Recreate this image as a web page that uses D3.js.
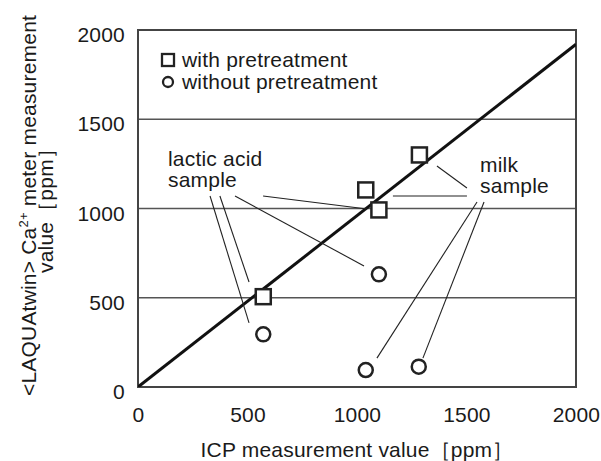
<!DOCTYPE html>
<html>
<head>
<meta charset="utf-8">
<script src="https://cdn.jsdelivr.net/npm/d3@7"></script>
<style>
  body { margin: 0; background: #fff; }
  svg text { font-family: "Liberation Sans", Arial, sans-serif; fill: #1a1a1a; letter-spacing: 0.2px; }
</style>
</head>
<body>
<svg id="chart" width="601" height="461"></svg>
<script>
// with pretreatment (squares)
const withX = [572, 1040, 1100, 1285];
const withY = [506, 1104, 992, 1300];
// without pretreatment (circles)
const withoutX = [572, 1100, 1040, 1282];
const withoutY = [295, 631, 95, 114];

const tickValues = [0, 500, 1000, 1500, 2000];
const gridValues = [500, 1000, 1500];
const fitLine = [[0, 0], [2000, 1920]];

const legendLabels = ['with pretreatment', 'without pretreatment'];
const lacticLabel = ['lactic acid', 'sample'];
const milkLabel = ['milk', 'sample'];
// leader lines [x1, y1, x2, y2] in data units
const lacticLeaders = [[329, 1070, 507, 359], [374, 1070, 507, 588], [443, 1070, 1032, 678], [571, 1070, 1046, 997]];
const milkLeaders = [[1365, 1238, 1502, 1115], [1164, 1070, 1502, 1070], [1548, 1036, 1091, 162], [1580, 1036, 1301, 162]];

const margin = { top: 30, right: 25, bottom: 74, left: 138 };
const width = 601 - margin.left - margin.right;
const height = 461 - margin.top - margin.bottom;

const svg = d3.select('#chart')
  .append('g')
  .attr('transform', `translate(${margin.left},${margin.top})`);

const x = d3.scaleLinear().domain([0, 2000]).range([0, width]);
const y = d3.scaleLinear().domain([0, 2000]).range([height, 0]);

// Gridlines
svg.append('g')
  .selectAll('line')
  .data(gridValues)
  .enter()
  .append('line')
  .attr('x1', 0)
  .attr('x2', width)
  .attr('y1', d => y(d))
  .attr('y2', d => y(d))
  .attr('stroke', '#555')
  .attr('stroke-width', 1.3);

// Frame
svg.append('rect')
  .attr('width', width)
  .attr('height', height)
  .attr('fill', 'none')
  .attr('stroke', '#444')
  .attr('stroke-width', 2);

// Axes (labels only)
const fmt = d3.format('d');
const xAxis = svg.append('g')
  .attr('transform', `translate(0,${height})`)
  .call(d3.axisBottom(x).tickValues(tickValues).tickFormat(fmt).tickSize(0).tickPadding(20));
const yAxis = svg.append('g')
  .call(d3.axisLeft(y).tickValues(tickValues).tickFormat(fmt).tickSize(0).tickPadding(13));
[xAxis, yAxis].forEach(a => {
  a.select('.domain').remove();
  a.selectAll('text').style('font-size', '21px').attr('fill', '#1a1a1a');
});
yAxis.selectAll('text').attr('dy', '0.55em');

// Axis titles
svg.append('text')
  .attr('x', width / 2)
  .attr('y', height + 70)
  .attr('text-anchor', 'middle')
  .style('font-size', '21px')
  .text('ICP measurement value［ppm］');

const yTitle = svg.append('text')
  .attr('transform', `translate(${-margin.left + 36},${height / 2 - 3}) rotate(-90)`)
  .attr('text-anchor', 'middle')
  .style('font-size', '21px');
yTitle.append('tspan').attr('x', 0).attr('y', 0).text('<LAQUAtwin> Ca');
yTitle.append('tspan').attr('dy', -8).style('font-size', '13px').text('2+');
yTitle.append('tspan').attr('dy', 8).text(' meter measurement');
yTitle.append('tspan').attr('x', 0).attr('y', 17).text('value［ppm］');

// Clip for the fit line
svg.append('clipPath').attr('id', 'plot-clip')
  .append('rect').attr('width', width).attr('height', height);

const line = d3.line().x(d => x(d[0])).y(d => y(d[1]));
svg.append('path')
  .datum(fitLine)
  .attr('d', line)
  .attr('clip-path', 'url(#plot-clip)')
  .attr('fill', 'none')
  .attr('stroke', '#111')
  .attr('stroke-width', 3);

// Leader lines
svg.append('g')
  .selectAll('line')
  .data(lacticLeaders.concat(milkLeaders))
  .enter()
  .append('line')
  .attr('x1', d => x(d[0]))
  .attr('y1', d => y(d[1]))
  .attr('x2', d => x(d[2]))
  .attr('y2', d => y(d[3]))
  .attr('stroke', '#222')
  .attr('stroke-width', 1.1);

// Squares
const sq = 15;
svg.append('g')
  .selectAll('rect')
  .data(withX.map((d, i) => [d, withY[i]]))
  .enter()
  .append('rect')
  .attr('x', d => x(d[0]) - sq / 2)
  .attr('y', d => y(d[1]) - sq / 2)
  .attr('width', sq)
  .attr('height', sq)
  .attr('fill', '#fff')
  .attr('stroke', '#222')
  .attr('stroke-width', 2.5);

// Circles
svg.append('g')
  .selectAll('circle')
  .data(withoutX.map((d, i) => [d, withoutY[i]]))
  .enter()
  .append('circle')
  .attr('cx', d => x(d[0]))
  .attr('cy', d => y(d[1]))
  .attr('r', 7)
  .attr('fill', '#fff')
  .attr('stroke', '#222')
  .attr('stroke-width', 2.5);

// Annotation labels
const annot = (lines, dx, dy) => {
  lines.forEach((s, i) => {
    svg.append('text')
      .style('font-size', '21px')
      .attr('x', x(dx))
      .attr('y', y(dy) - 1 + i * 21)
      .text(s);
  });
};
annot(lacticLabel, 137, 1232);
annot(milkLabel, 1562, 1199);

// Legend
const legend = svg.selectAll('.legend')
  .data(legendLabels)
  .enter()
  .append('g')
  .attr('class', 'legend')
  .attr('transform', (d, i) => `translate(24,${30 + i * 22})`);

legend.filter((d, i) => i === 0).append('rect')
  .attr('x', 0).attr('y', -6).attr('width', 12).attr('height', 12)
  .attr('fill', '#fff').attr('stroke', '#222').attr('stroke-width', 2.3);
legend.filter((d, i) => i === 1).append('circle')
  .attr('cx', 6).attr('cy', 0).attr('r', 5)
  .attr('fill', '#fff').attr('stroke', '#222').attr('stroke-width', 2.3);

legend.append('text')
  .attr('x', 20)
  .attr('y', 7)
  .style('font-size', '21px')
  .text(d => d);
</script>
</body>
</html>
